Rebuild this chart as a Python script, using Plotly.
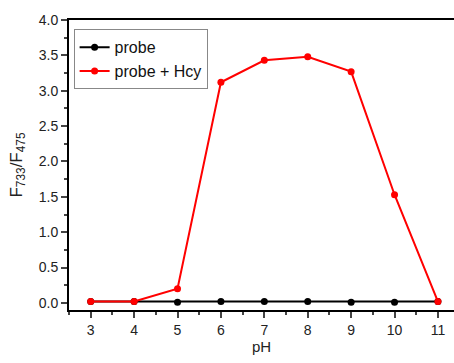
import plotly.graph_objects as go

ph = [3, 4, 5, 6, 7, 8, 9, 10, 11]
probe = [0.02, 0.02, 0.01, 0.02, 0.02, 0.02, 0.01, 0.01, 0.02]
probe_hcy = [0.02, 0.02, 0.20, 3.12, 3.43, 3.48, 3.27, 1.53, 0.02]
x_ticks = [3, 4, 5, 6, 7, 8, 9, 10, 11]
y_ticks = [0.0, 0.5, 1.0, 1.5, 2.0, 2.5, 3.0, 3.5, 4.0]

fig = go.Figure()
fig.add_trace(go.Scatter(x=ph, y=probe, mode="lines+markers", name="probe",
                         line=dict(color="black", width=2),
                         marker=dict(color="black", size=7, symbol="circle")))
fig.add_trace(go.Scatter(x=ph, y=probe_hcy, mode="lines+markers", name="probe + Hcy",
                         line=dict(color="#ff0000", width=2),
                         marker=dict(color="#ff0000", size=7, symbol="circle")))

font = "Liberation Sans, Arial, sans-serif"
fig.update_layout(
    width=454, height=363,
    margin=dict(l=69, r=0, t=20, b=53),
    plot_bgcolor="white", paper_bgcolor="white",
    font=dict(family=font, size=14, color="#222"),
    showlegend=True,
    legend=dict(x=0.012, y=0.968, xanchor="left", yanchor="top",
                bordercolor="#888", borderwidth=1, bgcolor="white",
                font=dict(size=16, color="#111"), tracegroupgap=0,
                itemwidth=30),
    xaxis=dict(range=[2.5, 11.37], tickvals=x_ticks, ticks="outside", ticklen=6,
               tickwidth=1.5, showline=True, linecolor="black", linewidth=2,
               mirror=True, showgrid=False, zeroline=False,
               minor=dict(dtick=0.5, ticks="outside", ticklen=3, tickwidth=1.5, tick0=0),
               title=dict(text="pH", font=dict(size=15), standoff=0),
               tickfont=dict(size=14)),
    yaxis=dict(range=[-0.1, 4.0], tickvals=y_ticks, tickformat=".1f", ticks="outside",
               ticklen=6, tickwidth=1.5, showline=True, linecolor="black", linewidth=2,
               mirror=False, showgrid=False, zeroline=False,
               minor=dict(dtick=0.25, ticks="outside", ticklen=3, tickwidth=1.5, tick0=0),
               title=dict(text="F<sub>733</sub>/F<sub>475</sub>", font=dict(size=17), standoff=12),
               tickfont=dict(size=14)),
)
fig.write_html("out.html")
